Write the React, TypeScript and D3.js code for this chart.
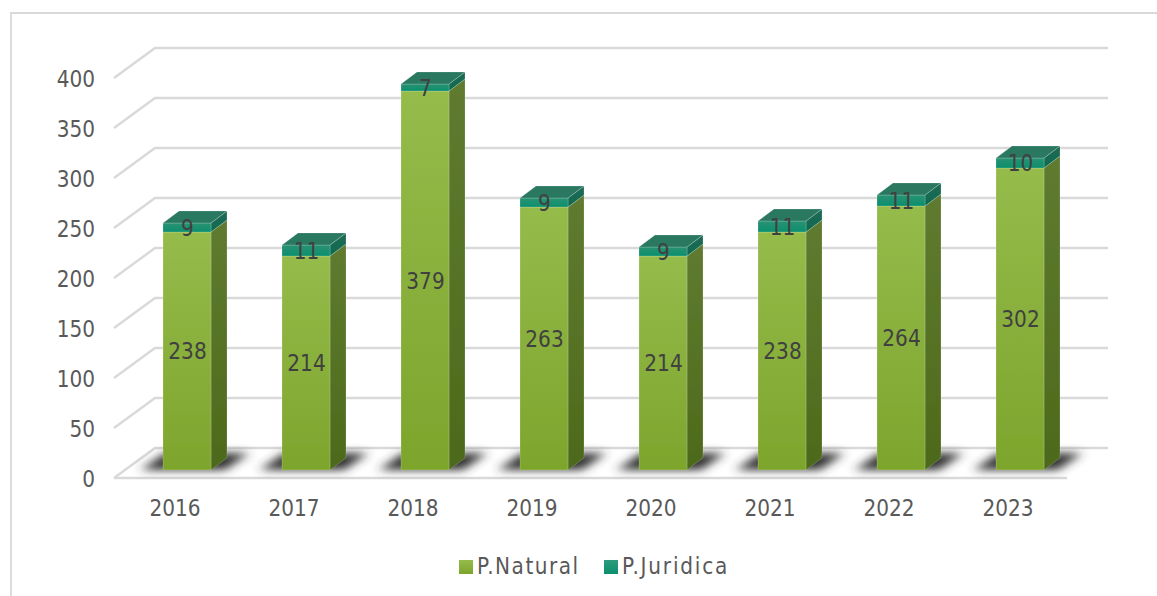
import React from "react";
import * as d3 from "d3";

const years = ["2016", "2017", "2018", "2019", "2020", "2021", "2022", "2023"];
const natural = [238, 214, 379, 263, 214, 238, 264, 302];
const juridica = [9, 11, 7, 9, 9, 11, 11, 10];
const ticks = [0, 50, 100, 150, 200, 250, 300, 350, 400];
const seriesNames = ["P.Natural", "P.Juridica"];

const W = 1157, H = 596;
const FONT = "'DejaVu Sans Condensed','DejaVu Sans',sans-serif";
const FS = 23.5, SX = 0.95;

const x = d3.scaleBand<string>().domain(years).range([114, 1066]);
const y = d3.scaleLinear().domain([0, 400]).range([478, 78]);
const WALL_DX = 41, WALL_DY = -30;
const BAR_X = 49, BAR_W = 48, BAR_LIFT = 8, DEPTH_X = 16, DEPTH_Y = -12;

const poly = d3.line<[number, number]>();
type P = [number, number];

function Label({ x: tx, y: ty, anchor, fill, spacing, children }: { x: number; y: number; anchor?: string; fill: string; spacing?: number; children: React.ReactNode }) {
  return (
    <text
      transform={`translate(${tx},${ty}) scale(${SX},1)`}
      textAnchor={anchor ?? "start"}
      fontFamily={FONT}
      fontSize={FS}
      fill={fill}
      letterSpacing={spacing}
    >
      {children}
    </text>
  );
}

function Box({ left, bottom, top, front, side, cap }: { left: number; bottom: number; top: number; front: string; side: string; cap?: string }) {
  const r = left + BAR_W;
  const frontPts: P[] = [[left, top], [r, top], [r, bottom], [left, bottom]];
  const sidePts: P[] = [[r, top], [r + DEPTH_X, top + DEPTH_Y], [r + DEPTH_X, bottom + DEPTH_Y], [r, bottom]];
  const capPts: P[] = [[left, top], [left + DEPTH_X, top + DEPTH_Y], [r + DEPTH_X, top + DEPTH_Y], [r, top]];
  return (
    <g>
      <path d={poly(sidePts)! + "Z"} fill={side} />
      <path d={poly(frontPts)! + "Z"} fill={front} />
      {cap && <path d={poly(capPts)! + "Z"} fill={cap} />}
    </g>
  );
}

export default function App() {
  const y0 = y(0) - BAR_LIFT;
  return (
    <svg width={W} height={H} viewBox={`0 0 ${W} ${H}`} style={{ position: "absolute", left: 0, top: 0, background: "#fff" }}>
      <defs>
        <linearGradient id="natFront" x1="0" y1="0" x2="0" y2="1">
          <stop offset="0" stopColor="#95BB4B" />
          <stop offset="1" stopColor="#7DA52C" />
        </linearGradient>
        <linearGradient id="natSide" x1="0" y1="0" x2="0" y2="1">
          <stop offset="0" stopColor="#5F7B30" />
          <stop offset="1" stopColor="#4D6A1A" />
        </linearGradient>
        <linearGradient id="jurFront" x1="0" y1="0" x2="0" y2="1">
          <stop offset="0" stopColor="#2A9273" />
          <stop offset="1" stopColor="#0A8F6C" />
        </linearGradient>
        <linearGradient id="jurSide" x1="0" y1="0" x2="0" y2="1">
          <stop offset="0" stopColor="#226B55" />
          <stop offset="1" stopColor="#0C6A4F" />
        </linearGradient>
        <linearGradient id="swNat" x1="0" y1="0" x2="0" y2="1">
          <stop offset="0" stopColor="#95BB4B" />
          <stop offset="1" stopColor="#7CA42A" />
        </linearGradient>
        <linearGradient id="swJur" x1="0" y1="0" x2="0" y2="1">
          <stop offset="0" stopColor="#2F9A7E" />
          <stop offset="1" stopColor="#0A8F6C" />
        </linearGradient>
        <filter id="shadowBlur" x="-30%" y="-100%" width="160%" height="300%">
          <feGaussianBlur stdDeviation="5.5 4" />
        </filter>
        <filter id="soft" x="-5%" y="-5%" width="110%" height="110%">
          <feGaussianBlur stdDeviation="0.4" />
        </filter>
      </defs>

      <path d={`M11,596 V13 H${W}`} fill="none" stroke="#d9d9d9" strokeWidth={1.8} />

      <g stroke="#d9d9d9" strokeWidth={2.4} fill="none" filter="url(#soft)">
        {ticks.map((t) => (
          <path
            key={t}
            d={poly([
              [114, y(t)],
              [114 + WALL_DX, y(t) + WALL_DY],
              [1067 + WALL_DX, y(t) + WALL_DY],
            ])!}
          />
        ))}
        <path d={poly([[114, y(0)], [1067, y(0)]])!} />
      </g>

      <g filter="url(#shadowBlur)" fill="#333333">
        {years.map((c) => {
          const l = x(c)! + BAR_X;
          const pts: P[] = [[l - 22, y0], [l + BAR_W + 14, y0], [l + BAR_W + 38, y0 - 17], [l + 2, y0 - 17]];
          return <path key={c} d={poly(pts)! + "Z"} />;
        })}
      </g>

      <g filter="url(#soft)">
        {years.map((c, i) => {
          const l = x(c)! + BAR_X;
          const nTop = y(natural[i]) - BAR_LIFT;
          const jTop = y(natural[i] + juridica[i]) - BAR_LIFT;
          return (
            <g key={c} stroke="#ffffff" strokeOpacity={0.3} strokeWidth={0.6}>
              <Box left={l} bottom={y0} top={nTop} front="url(#natFront)" side="url(#natSide)" />
              <Box left={l} bottom={nTop} top={jTop} front="url(#jurFront)" side="url(#jurSide)" cap="#2A7860" />
            </g>
          );
        })}
      </g>

      {years.map((c, i) => {
        const cx = x(c)! + BAR_X + BAR_W / 2 + 0.5;
        const nTop = y(natural[i]) - BAR_LIFT;
        const jTop = y(natural[i] + juridica[i]) - BAR_LIFT;
        return (
          <g key={c}>
            <Label x={cx} y={(y0 + nTop) / 2 + 8} anchor="middle" fill="#404040">{natural[i]}</Label>
            <Label x={cx} y={(nTop + jTop) / 2 + 8} anchor="middle" fill="#404040">{juridica[i]}</Label>
          </g>
        );
      })}

      {ticks.map((t) => (
        <Label key={t} x={95} y={y(t) + 9} anchor="end" fill="#595959">{t}</Label>
      ))}

      {years.map((c) => (
        <Label key={c} x={x(c)! + x.bandwidth() / 2 + 1.5} y={516} anchor="middle" fill="#595959">{c}</Label>
      ))}

      <rect x={459} y={560} width={14} height={14} fill="url(#swNat)" />
      <Label x={477} y={574} fill="#595959" spacing={1.6}>{seriesNames[0]}</Label>
      <rect x={604} y={560} width={14} height={14} fill="url(#swJur)" />
      <Label x={622} y={574} fill="#595959" spacing={1.9}>{seriesNames[1]}</Label>
    </svg>
  );
}
